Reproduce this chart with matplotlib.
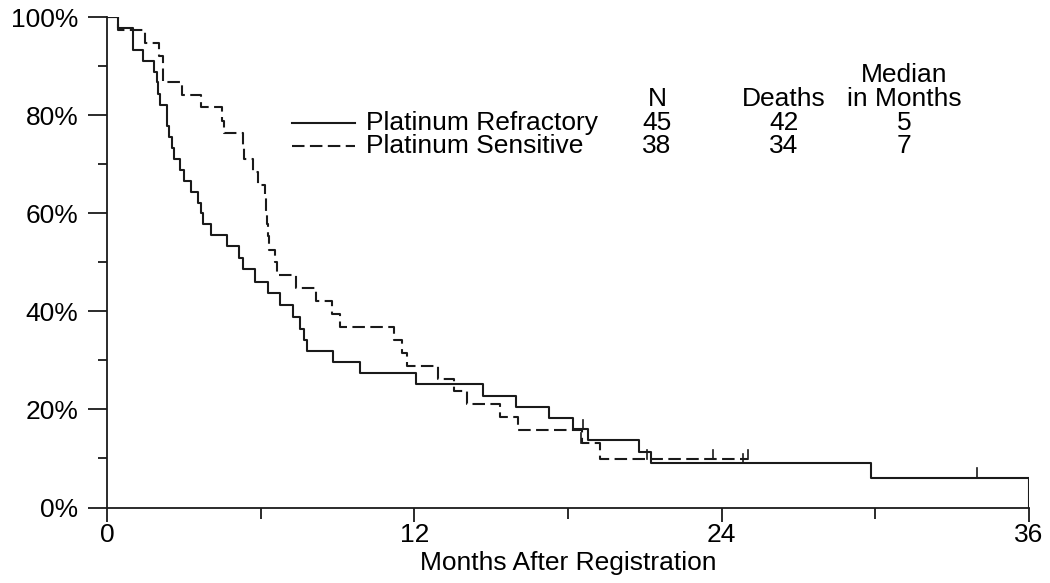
import matplotlib
matplotlib.use("Agg")
import matplotlib.pyplot as plt
from matplotlib.ticker import MultipleLocator, FuncFormatter

# Kaplan-Meier style survival
# months at which the curve steps down, and the survival (%) after each step
refractory_t = [0, 0.44, 1.00, 1.39, 1.84, 1.96, 2.00, 2.05, 2.33, 2.36, 2.43, 2.53, 2.62,
                2.85, 3.02, 3.27, 3.57, 3.66, 3.74, 4.05, 4.70, 5.17, 5.30, 5.78, 6.28,
                6.76, 7.25, 7.54, 7.70, 7.82, 8.82, 9.88, 12.07, 14.68, 15.96, 17.24,
                18.21, 18.79, 20.79, 21.25, 29.83, 36.0]
refractory_s = [100, 97.8, 93.3, 91.1, 88.9, 86.7, 84.4, 82.2, 80.0, 77.8, 75.6, 73.3, 71.1,
                68.9, 66.7, 64.4, 62.2, 60.0, 57.8, 55.6, 53.3, 50.9, 48.6, 46.1, 43.7,
                41.3, 38.9, 36.5, 34.2, 31.9, 29.7, 27.4, 25.1, 22.8, 20.5, 18.3,
                16.0, 13.7, 11.4, 9.1, 6.1, 0]
refractory_cens_t = [18.6, 24.82, 33.98]
refractory_cens_s = [16.0, 9.1, 6.1]

sensitive_t = [0, 0.44, 1.48, 2.03, 2.17, 2.20, 2.92, 3.67, 4.50, 4.58, 5.30, 5.34, 5.70,
               5.88, 6.17, 6.20, 6.24, 6.27, 6.33, 6.56, 6.64, 7.37, 8.15, 8.80, 9.10,
               11.21, 11.51, 11.73, 12.94, 13.55, 14.07, 15.35, 16.03, 18.55, 19.26, 25.03]
sensitive_s = [100, 97.4, 94.7, 92.1, 89.5, 86.8, 84.2, 81.6, 78.9, 76.3, 73.7, 71.1, 68.4,
               65.8, 63.2, 60.5, 57.9, 55.3, 52.6, 50.0, 47.4, 44.7, 42.1, 39.5, 36.8,
               34.2, 31.6, 28.9, 26.3, 23.7, 21.1, 18.4, 15.8, 13.2, 9.9, 9.9]
sensitive_cens_t = [18.5, 21.08, 23.68, 25.03]
sensitive_cens_s = [13.2, 9.9, 9.9, 9.9]

groups = ["Platinum Refractory", "Platinum Sensitive"]
n_pat = ["45", "38"]
deaths = ["42", "34"]
medians = ["5", "7"]

plt.rcParams['font.family'] = ['Liberation Sans', 'DejaVu Sans']
ink = '#1a1a1a'
dash = (0, (6, 2.6))
lw = 1.5

fig = plt.figure(figsize=(10.5, 5.83), dpi=100)
ax = fig.add_axes([107 / 1050, 75.5 / 583, 922 / 1050, 490.2 / 583])

ax.step(refractory_t, refractory_s, where='post', color=ink, lw=lw)
ax.step(sensitive_t, sensitive_s, where='post', color=ink, lw=lw, linestyle=dash)

# censoring marks: short vertical ticks above the curve
for t, s in zip(refractory_cens_t, refractory_cens_s):
    ax.plot([t, t], [s, s + 1.9], color=ink, lw=1.2)
for t, s in zip(sensitive_cens_t, sensitive_cens_s):
    ax.plot([t, t], [s, s + 1.9], color=ink, lw=1.2)

ax.set_xlim(0, 36)
ax.set_ylim(0, 100)
ax.spines['top'].set_visible(False)
ax.spines['right'].set_visible(False)
for sp in ['left', 'bottom']:
    ax.spines[sp].set_color(ink)
    ax.spines[sp].set_linewidth(1.3)

fs = 19
ax.xaxis.set_major_locator(MultipleLocator(12))
ax.xaxis.set_minor_locator(MultipleLocator(6))
ax.yaxis.set_major_locator(MultipleLocator(20))
ax.yaxis.set_minor_locator(MultipleLocator(10))
ax.yaxis.set_major_formatter(FuncFormatter(lambda v, p: f"{v:.0f}%"))
ax.tick_params(axis='y', which='major', length=13.5, width=1.3, color=ink, labelsize=fs, pad=7)
ax.tick_params(axis='y', which='minor', length=6.5, width=1.3, color=ink)
ax.tick_params(axis='x', which='major', length=10, width=1.3, color=ink, labelsize=fs, pad=1)
ax.tick_params(axis='x', which='minor', length=8, width=1.3, color=ink)
ax.set_xlabel("Months After Registration", fontsize=fs, labelpad=3)

# legend table placed by pixel position inside the axes
tr = ax.transAxes
def fx(px):
    return (px - 107) / 922
def fy(py):
    return (507.5 - py) / 490.2

ax.text(fx(657), fy(99), "N", transform=tr, ha='center', va='center', fontsize=fs)
ax.text(fx(784), fy(99), "Deaths", transform=tr, ha='center', va='center', fontsize=fs)
ax.text(fx(904), fy(75), "Median", transform=tr, ha='center', va='center', fontsize=fs)
ax.text(fx(904), fy(99), "in Months", transform=tr, ha='center', va='center', fontsize=fs)

rows_y = [123, 146]
styles = ['-', dash]
for i in range(2):
    y = fy(rows_y[i])
    ax.plot([fx(292), fx(355)], [y, y], transform=tr, color=ink, lw=lw, linestyle=styles[i])
    ax.text(fx(366), y, groups[i], transform=tr, ha='left', va='center', fontsize=fs)
    ax.text(fx(657), y, n_pat[i], transform=tr, ha='center', va='center', fontsize=fs)
    ax.text(fx(784), y, deaths[i], transform=tr, ha='center', va='center', fontsize=fs)
    ax.text(fx(904), y, medians[i], transform=tr, ha='center', va='center', fontsize=fs)

fig.savefig("out.png", dpi=100)
